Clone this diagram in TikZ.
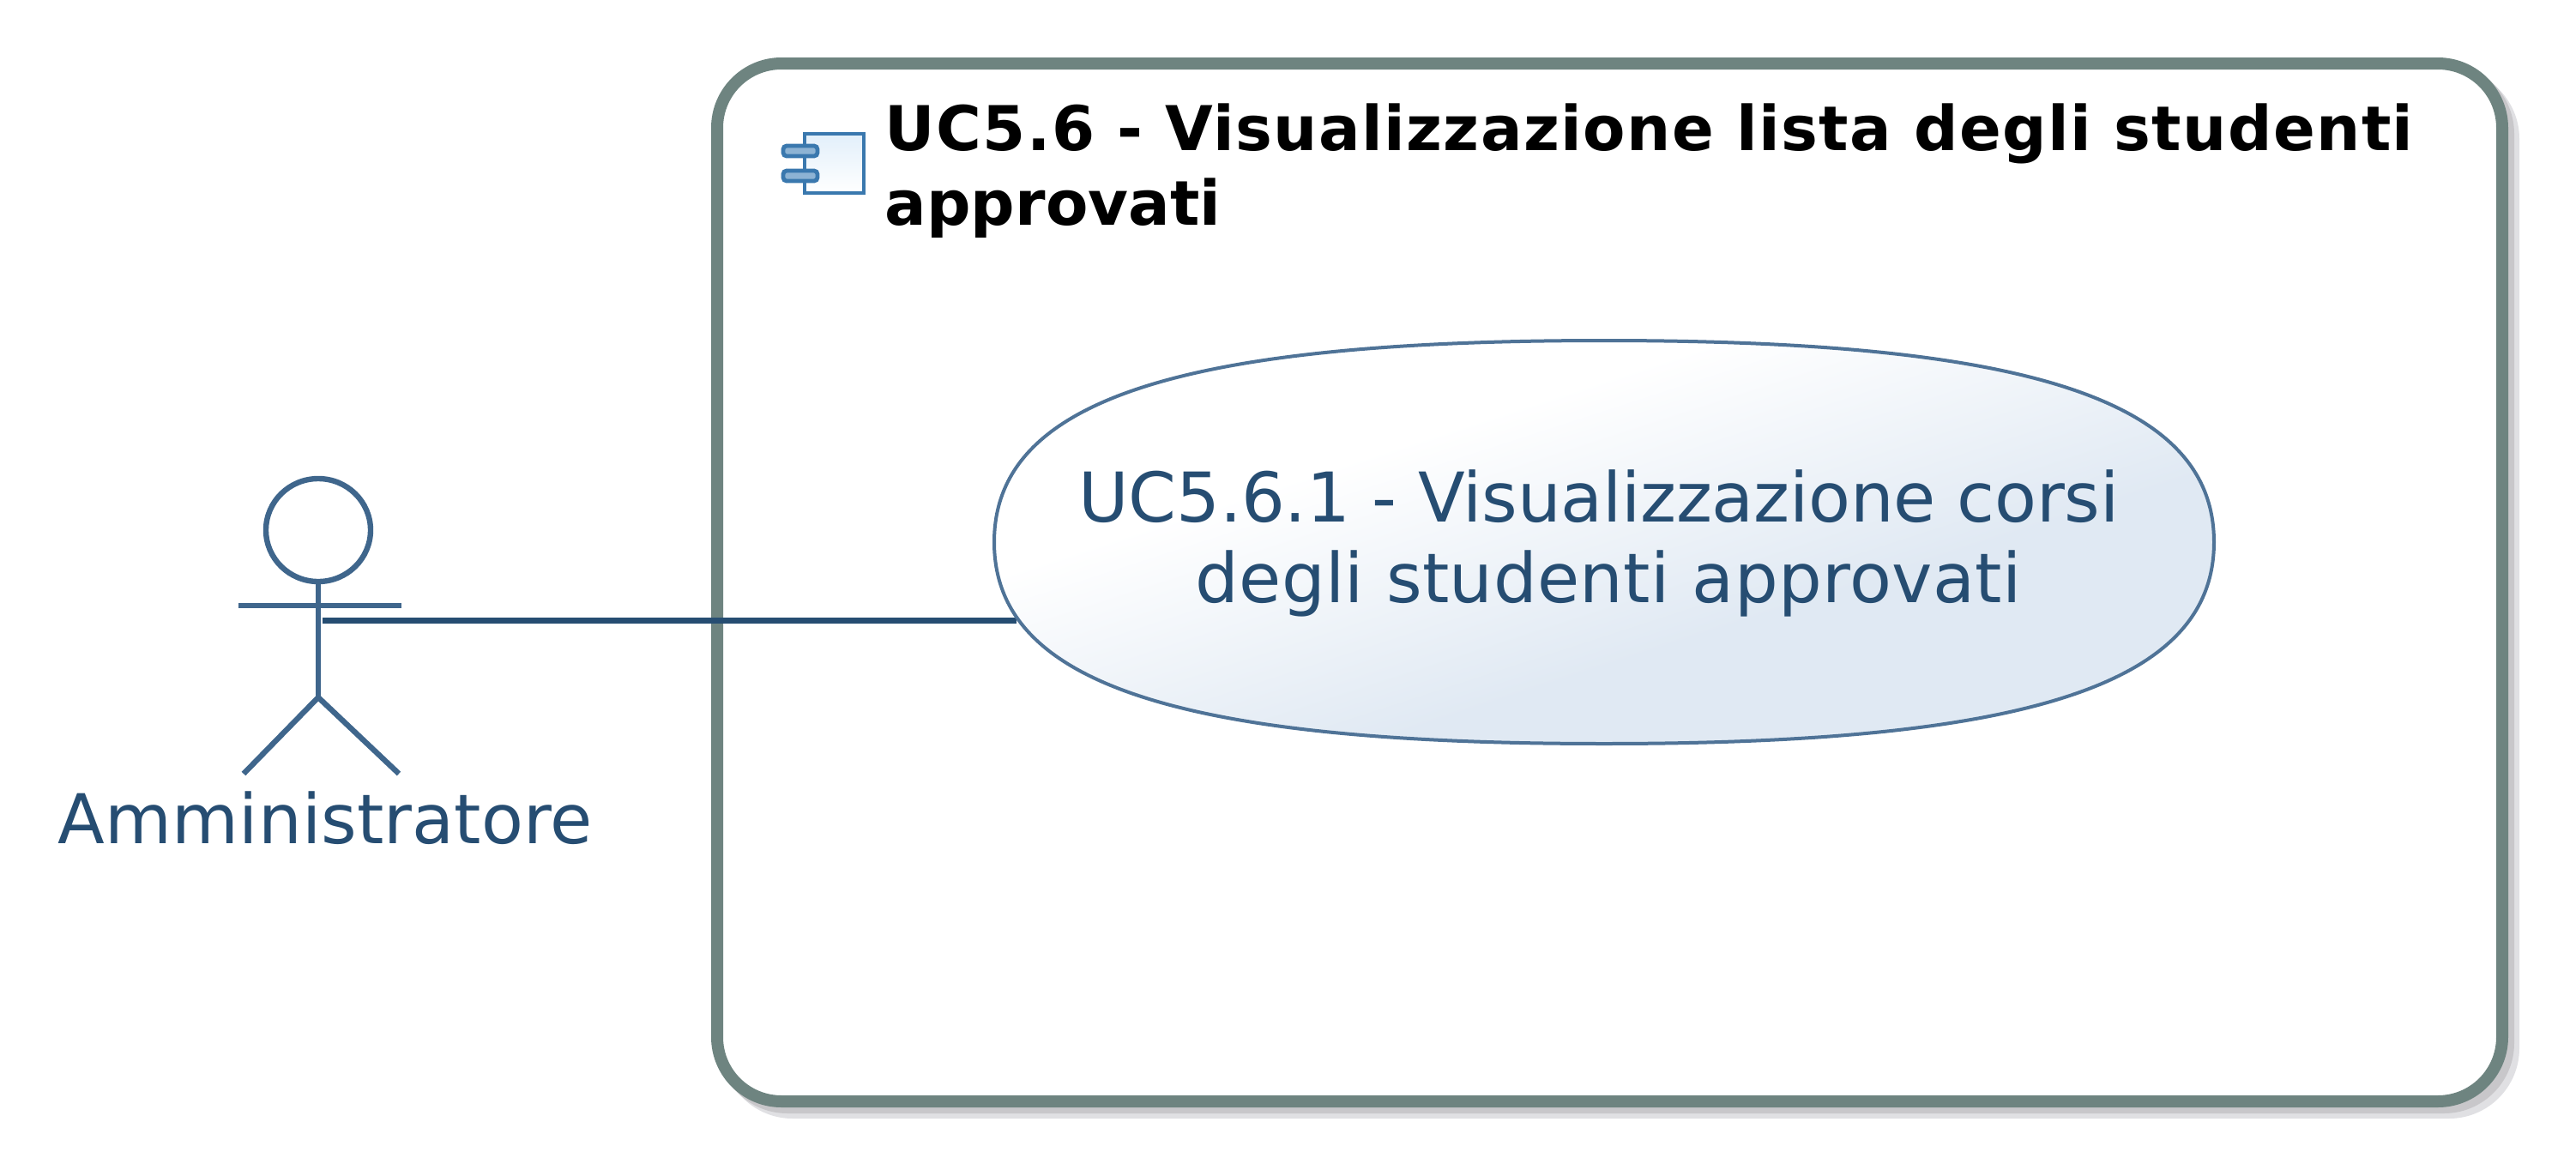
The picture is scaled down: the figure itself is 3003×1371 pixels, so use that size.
\documentclass[tikz,border=0pt]{standalone}
\usepackage{fontspec}
\setmainfont{DejaVu Sans}
\definecolor{inkblue}{HTML}{264D72}
\definecolor{actorblue}{HTML}{3F668C}
\definecolor{ucline}{HTML}{4F7397}
\definecolor{framegrey}{HTML}{6E8480}
\definecolor{shadowdark}{HTML}{C8C7CA}
\definecolor{shadowlight}{HTML}{E0E0E3}
\definecolor{ucfill}{HTML}{E0E9F3}
\definecolor{iconblue}{HTML}{3A78AE}
\definecolor{icontop}{HTML}{E2EFFA}
\definecolor{iconport}{HTML}{8DB3D4}
\pgfdeclareverticalshading{ucgrad}{100bp}{color(0bp)=(ucfill); color(40bp)=(ucfill); color(63bp)=(white); color(100bp)=(white)}
\tikzset{
  framebox/.style={rounded corners=18.75pt,line width=3.5pt,draw=framegrey,fill=white},
  shadowbox/.style={rounded corners=18.75pt,line width=3.5pt},
  actorline/.style={draw=actorblue,line width=1.6pt},
  link/.style={draw=inkblue,line width=1.75pt},
  uctext/.style={text=inkblue,font=\fontsize{20}{23.5}\selectfont,inner sep=0pt},
  titletext/.style={text=black,font=\fontsize{18}{21.75}\selectfont\bfseries,inner sep=0pt,align=left,anchor=north west},
  iconline/.style={draw=iconblue,line width=1.2pt},
  ucshape/.style={draw=ucline,line width=1pt,shading=ucgrad,shading angle=18}
}
\begin{document}
\begin{tikzpicture}[x=0.25pt,y=-0.25pt]
\useasboundingbox[fill=white] (0,0) rectangle (3003,1371);
% system frame with double shadow
\path[shadowbox,draw=shadowlight,fill=shadowlight] (849,87) rectangle (2930,1297);
\path[shadowbox,draw=shadowdark,fill=shadowdark] (843,81) rectangle (2924,1291);
\path[framebox] (836,74) rectangle (2917,1284);
% component icon
\draw[iconline,top color=icontop,bottom color=white] (938,156) rectangle (1007,225);
\draw[iconline,fill=iconport,rounded corners=1pt] (913,170) rectangle (953,182);
\draw[iconline,fill=iconport,rounded corners=1pt] (913,199) rectangle (953,211);
\node[titletext] (title) at (1031,120) {\addfontfeature{LetterSpace=1.9}UC5.6 - Visualizzazione lista degli studenti\\approvati};
% actor
\draw[actorline] (371,618) ellipse [x radius=61,y radius=60];
\coordinate (neck) at (371,678);
\coordinate (hip) at (371,813);
\coordinate (armL) at (278,706);
\coordinate (armR) at (468,706);
\coordinate (legL) at (284,902);
\coordinate (legR) at (465,902);
\draw[actorline] (neck) -- (hip);
\draw[actorline] (armL) -- (armR);
\draw[actorline] (legL) -- (hip) -- (legR);
\node[uctext,anchor=base west] (actor) at (67,983) {\addfontfeature{LetterSpace=0.18}Amministratore};
% connector
\coordinate (linkstart) at (376,723);
\coordinate (linkend) at (1185,723);
\draw[link] (linkstart) -- (linkend);
% use case
\path[ucshape] (1159,632) .. controls (1159,467.5) and (1372,397) .. (1870,397) .. controls (2368,397) and (2581,467.5) .. (2581,632) .. controls (2581,796.5) and (2368,867) .. (1870,867) .. controls (1372,867) and (1159,796.5) .. (1159,632) -- cycle;
\node[uctext,anchor=base,align=center] (uc1) at (1864,608) {\addfontfeature{LetterSpace=-0.33}UC5.6.1 - Visualizzazione corsi};
\node[uctext,anchor=base,align=center] (uc2) at (1875,702) {\addfontfeature{LetterSpace=0.5}degli studenti approvati};
\end{tikzpicture}
\end{document}
